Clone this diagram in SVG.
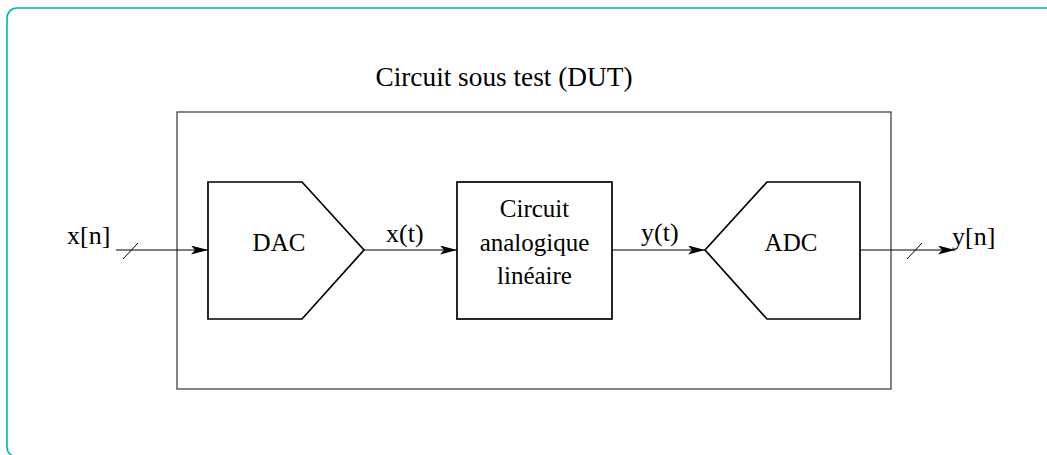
<svg xmlns="http://www.w3.org/2000/svg" width="1047" height="455" viewBox="0 0 1047 455">
  <defs>
    <style>
      .frame { fill: none; stroke: #00b5b5; stroke-width: 1.6; }
      .dut { fill: none; stroke: #444; stroke-width: 1.3; }
      .block { fill: #fff; stroke: #000; stroke-width: 1.7; stroke-linejoin: miter; }
      .wire { fill: none; stroke: #000; stroke-width: 1.2; }
      .bus { fill: none; stroke: #000; stroke-width: 1; }
      text { font-family: "Liberation Serif", "Times New Roman", serif; fill: #000; }
      .lbl { font-size: 26px; }
      .blk { font-size: 25px; text-anchor: middle; }
    </style>
    <marker id="arrow" viewBox="0 0 17 9" refX="17" refY="4.5" markerWidth="17" markerHeight="9" markerUnits="userSpaceOnUse" orient="auto">
      <path d="M0,0 L17,4.5 L0,9 L4,4.5 Z" fill="#000"/>
    </marker>
  </defs>

  <!-- page frame -->
  <rect class="frame" x="7" y="8" width="1100" height="449" rx="10" ry="10"/>

  <!-- device under test enclosure -->
  <g id="dut">
    <rect class="dut" x="177" y="112" width="714" height="277"/>
    <text x="504" y="86" text-anchor="middle" font-size="27.3">Circuit sous test (DUT)</text>
  </g>

  <g id="dac">
    <polygon class="block" points="208,182 302,182 364,250 302,319 208,319"/>
    <text class="blk" x="279" y="251">DAC</text>
  </g>

  <g id="analog">
    <rect class="block" x="457" y="182" width="155" height="137"/>
    <text class="blk" x="534.5" y="217" font-size="26.5">Circuit</text>
    <text class="blk" x="534.5" y="251" font-size="26.5">analogique</text>
    <text class="blk" x="534.5" y="284" font-size="26.5">linéaire</text>
  </g>

  <g id="adc">
    <polygon class="block" points="705,250 767,182 860,182 860,319 767,319"/>
    <text class="blk" x="791" y="251">ADC</text>
  </g>

  <g id="connectors">
    <line class="wire" x1="116" y1="250" x2="208" y2="250" marker-end="url(#arrow)"/>
    <line class="bus" x1="123" y1="259" x2="138" y2="243"/>
    <line class="wire" x1="364" y1="250" x2="457" y2="250" marker-end="url(#arrow)"/>
    <line class="wire" x1="612" y1="250" x2="705" y2="250" marker-end="url(#arrow)"/>
    <line class="wire" x1="860" y1="250" x2="955" y2="250" marker-end="url(#arrow)"/>
    <line class="bus" x1="907" y1="259" x2="922" y2="243"/>
  </g>

  <g id="labels">
    <text class="lbl" x="67" y="244">x[n]</text>
    <text class="lbl" x="386" y="242" font-size="25">x(t)</text>
    <text class="lbl" x="641" y="241" font-size="25">y(t)</text>
    <text class="lbl" x="952" y="245">y[n]</text>
  </g>
</svg>
